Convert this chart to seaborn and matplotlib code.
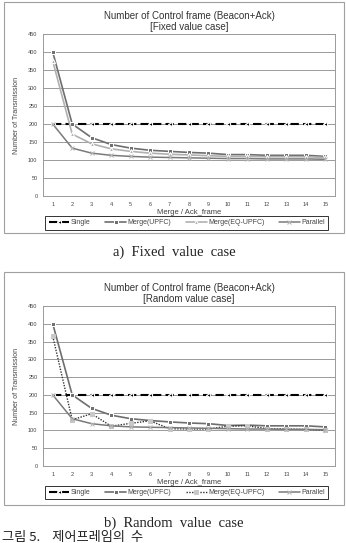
import seaborn as sns
import matplotlib.pyplot as plt
import matplotlib.patches as patches
import numpy as np
import pandas as pd

# x axis: number of merged frames
frames = list(range(1, 16))

# fixed value case
fixed_single = [200] * 15
fixed_upfc = [400, 200, 162, 143, 133, 127, 124, 121, 119, 115, 115, 113, 113, 113, 110]
fixed_eq_upfc = [375, 172, 145, 131, 124, 119, 116, 114, 112, 110, 110, 109, 109, 109, 107]
fixed_parallel = [200, 133, 119, 113, 110, 108, 107, 106, 105, 104, 104, 103, 103, 103, 102]

# random value case
random_single = [200] * 15
random_upfc = [400, 200, 162, 143, 133, 128, 124, 121, 119, 114, 115, 113, 113, 113, 110]
random_eq_upfc = [365, 130, 147, 112, 120, 127, 105, 104, 104, 112, 113, 105, 104, 103, 100]
random_parallel = [200, 133, 119, 113, 110, 109, 108, 107, 106, 105, 104, 104, 103, 103, 102]

series_names = ["Single", "Merge(UPFC)", "Merge(EQ-UPFC)", "Parallel"]
y_ticks = list(range(0, 451, 50))

sns.set_style("white")
plt.rcParams["font.family"] = ["Liberation Sans", "DejaVu Sans"]

fig = plt.figure(figsize=(3.46, 5.43), dpi=100)
W, H = 346, 543


def px_box(x0, y0, x1, y1):
    # pixel box (top-left origin) -> figure fraction [left, bottom, width, height]
    return [x0 / W, 1 - y1 / H, (x1 - x0) / W, (y1 - y0) / H]


def draw_panel(box, frame_box, title, values, eq_style):
    l, b, w, h = px_box(*frame_box)
    fig.patches.append(patches.Rectangle((l, b), w, h, transform=fig.transFigure,
                                         fill=False, edgecolor="#a0a0a0", linewidth=0.8))
    ax = fig.add_axes(px_box(*box))
    df = pd.DataFrame({"frame": frames * 4,
                       "value": sum(values, []),
                       "series": np.repeat(series_names, 15)})
    styles = [
        dict(color="black", linestyle=(0, (4, 2)), marker="<", markersize=3, linewidth=1.5),
        dict(color="#6e6e6e", linestyle="-", marker="s", markersize=3.2, linewidth=1.2),
        eq_style,
        dict(color="#7a7a7a", linestyle="-", marker="x", markersize=2.5, linewidth=1.1,
             markeredgecolor="#b8b8b8"),
    ]
    for name, st in zip(series_names, styles):
        sns.lineplot(data=df[df["series"] == name], x="frame", y="value", ax=ax,
                     label=name, **st)
    ax.set_xlim(0.5, 15.5)
    ax.set_ylim(0, 450)
    ax.set_xticks(frames)
    ax.set_yticks(y_ticks)
    ax.tick_params(labelsize=4, colors="#444444", length=2, width=0.5, pad=2)
    ax.yaxis.grid(True, color="#9a9a9a", linewidth=0.7)
    for s in ax.spines.values():
        s.set_color("#9a9a9a")
        s.set_linewidth(0.7)
    ax.set_xlabel("Merge / Ack_frame", fontsize=5.5, color="#444444", labelpad=2)
    ax.set_ylabel("Number of Transmission", fontsize=5, color="#444444", labelpad=6)
    ax.set_title(title, fontsize=7, color="#333333", pad=3, linespacing=1.1)
    leg = ax.legend(loc="upper center", bbox_to_anchor=(0.492, -0.125), ncol=4,
                    fontsize=5, frameon=True, fancybox=False, edgecolor="black",
                    handlelength=3.0, columnspacing=2.1, handletextpad=0.2,
                    borderpad=0.45, numpoints=1, borderaxespad=0)
    leg.get_frame().set_linewidth(0.7)
    for t in leg.get_texts():
        t.set_color("#444444")
    return ax


eq_fixed = dict(color="#b0b0b0", linestyle="-", marker="^", markersize=3, linewidth=1.2)
eq_random = dict(color="#333333", linestyle=(0, (1, 1)), marker="s", markersize=2.5,
                 linewidth=1.0, markerfacecolor="#c8c8c8", markeredgecolor="#c8c8c8")

draw_panel((43, 34, 335, 196), (4, 2, 344, 233),
           "Number of Control frame (Beacon+Ack)\n[Fixed value case]",
           [fixed_single, fixed_upfc, fixed_eq_upfc, fixed_parallel], eq_fixed)
draw_panel((43, 306, 335, 466), (4, 272, 344, 505),
           "Number of Control frame (Beacon+Ack)\n[Random value case]",
           [random_single, random_upfc, random_eq_upfc, random_parallel], eq_random)

fig.text(174 / W, 1 - 252 / H, "a)  Fixed  value  case", ha="center", va="center",
         fontsize=10.5, family="Liberation Serif", color="#222222")
fig.text(174 / W, 1 - 523 / H, "b)  Random  value  case", ha="center", va="center",
         fontsize=10.5, family="Liberation Serif", color="#222222")
fig.text(2 / W, 1 - 537 / H, "그림 5.    제어프레임의  수", ha="left", va="center",
         fontsize=9.5, family=["Noto Sans CJK KR", "DejaVu Sans"], color="#222222")

fig.savefig("out.png", dpi=100)
